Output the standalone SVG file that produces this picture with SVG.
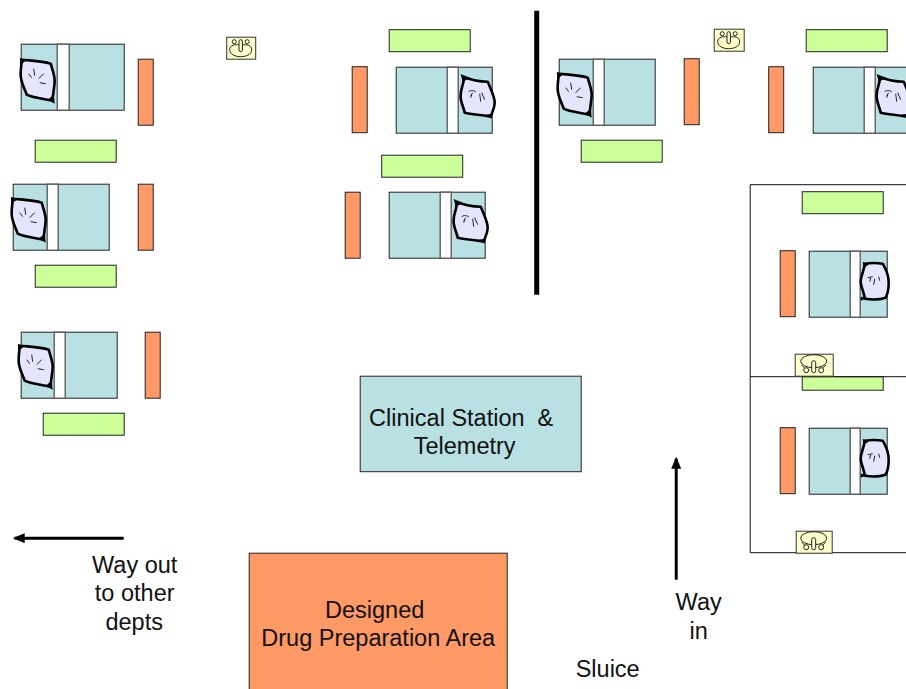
<svg xmlns="http://www.w3.org/2000/svg" xmlns:xlink="http://www.w3.org/1999/xlink" width="906" height="689" viewBox="0 0 906 689">
<style>
.bed{fill:#b9e0e3;stroke:#222;stroke-width:1}
.strip{fill:#fff;stroke:#555;stroke-width:1.300}
.loc{fill:#ff9966;stroke:#222;stroke-width:1}
.bench{fill:#ccff99;stroke:#222;stroke-width:1}
.sink{fill:#ffffcc;stroke:#333;stroke-width:1}
.ln{fill:none;stroke:#222;stroke-width:1}
.room{fill:none;stroke:#111;stroke-width:1}
.t{font-family:"Liberation Sans",Arial,sans-serif;font-size:23.500px;fill:#111;text-anchor:middle}
</style>
<defs>
<marker id="ah" markerWidth="12" markerHeight="10" refX="10" refY="5" orient="auto" markerUnits="userSpaceOnUse"><path d="M0 0L12 5L0 10z" fill="#000"/></marker>
<g id="pillow">
<path d="M-16 -21C-8 -20 4 -20 13 -17C15 -10 17 -5 17 0C17 6 15 12 15 20C6 18 -6 17 -11 14C-13 8 -18 0 -17 -8C-17 -13 -16 -17 -16 -21Z" fill="#e5e5ff" stroke="#000" stroke-width="2.600" stroke-linejoin="round"/>
<path d="M10 19L16 14L17 23Z M-18 -23L-12 -20L-17 -16Z" fill="#000"/>
<path d="M-4 -12L-3 -5M-9 -7L-6 -3M6 -7L1 -2M2 2L8 3" fill="none" stroke="#222" stroke-width="1"/>
</g>
<g id="pillowR">
<path d="M-13 -20C-6 -17 4 -15 11 -15C14 -8 18 0 18 6C18 12 15 16 14 20C6 18 -4 18 -12 16C-13 10 -17 4 -16 -2C-16 -9 -12 -14 -13 -20Z" fill="#e5e5ff" stroke="#000" stroke-width="2.600" stroke-linejoin="round"/>
<path d="M-16 -23L-8 -18L-14 -15Z M9 18L15 17L15 22Z" fill="#000"/>
<path d="M-8 -5C-5 -7 -3 -6 -1 -5M-6 -1L-4 -4M-6 1L-5 -2M3 -3L4 5M5 -4L8 3" fill="none" stroke="#222" stroke-width="1"/>
</g>
<g id="pillowS">
<path d="M-9 -18C-3 -19 3 -19 9 -18C12 -13 15 -6 15 1C15 7 14 12 12 16C6 18 -3 18 -9 17C-9 11 -13 6 -13 0C-13 -7 -9 -12 -9 -18Z" fill="#e5e5ff" stroke="#000" stroke-width="2.600" stroke-linejoin="round"/>
<path d="M-11 -20L-5 -17L-10 -14Z M-13 15L-6 16L-13 19Z" fill="#000"/>
<path d="M-6 -4L-1 -5M-3 -4L-4 0M1 -3L0 3M5 -5L6 -1" fill="none" stroke="#222" stroke-width="1"/>
</g>
<g id="sinkTop">
<path d="M-11 3C-11 -2 -5 -2 -3 -2L3 -2C5 -2 11 -2 11 3C11 8 5 10 0 10C-5 10 -11 8 -11 3Z" class="ln"/>
<rect x="-1.700" y="-7" width="3.400" height="12" rx="1.700" fill="#ffffcc" stroke="#222"/>
<circle cx="-6.500" cy="-5" r="2" class="ln"/><circle cx="6.500" cy="-5" r="2" class="ln"/>
</g>
<g id="sinkBottom">
<ellipse cx="0" cy="-2.500" rx="13" ry="6.500" class="ln"/>
<rect x="-2" y="-3" width="4" height="12" rx="2" fill="#ffffcc" stroke="#222"/>
<circle cx="-7.500" cy="6.500" r="2.500" class="ln"/><circle cx="7.500" cy="6.500" r="2.500" class="ln"/>
<path d="M-9 4.500L-12 1.500M9 4.500L12 1.500" class="ln"/>
</g>
</defs>
<g transform="translate(-0.300 -0.300)">
<g id="bed-1"><rect class="bed" x="21.500" y="44.500" width="103" height="66"/><rect class="strip" x="57.500" y="44.500" width="12" height="66"/><use xlink:href="#pillow" href="#pillow" x="38" y="81"/></g>
<g id="bed-2"><rect class="bed" x="13.500" y="184.500" width="96" height="66"/><rect class="strip" x="47.500" y="184.500" width="11" height="66"/><use xlink:href="#pillow" href="#pillow" x="29" y="220"/></g>
<g id="bed-3"><rect class="bed" x="21.500" y="332.500" width="96" height="66"/><rect class="strip" x="54.500" y="332.500" width="11" height="66"/><use xlink:href="#pillow" href="#pillow" x="36" y="367"/></g>
<g id="bed-4"><rect class="bed" x="559.500" y="59.500" width="96" height="66"/><rect class="strip" x="593.500" y="59.500" width="11" height="66"/><use xlink:href="#pillow" href="#pillow" x="575" y="95"/></g>
<g id="bed-5"><rect class="bed" x="396.500" y="67.500" width="96" height="66"/><rect class="strip" x="447.500" y="67.500" width="11" height="66"/><use xlink:href="#pillowR" href="#pillowR" x="477" y="97"/></g>
<g id="bed-6"><rect class="bed" x="389.500" y="192.500" width="96" height="66"/><rect class="strip" x="440.500" y="192.500" width="11" height="66"/><use xlink:href="#pillowR" href="#pillowR" x="470" y="222"/></g>
<g id="bed-7"><rect class="bed" x="813.500" y="67.500" width="96" height="66"/><rect class="strip" x="864.500" y="67.500" width="11" height="66"/><use xlink:href="#pillowR" href="#pillowR" x="893" y="97"/></g>
<g id="bed-8"><rect class="bed" x="809.500" y="251.500" width="78" height="66"/><rect class="strip" x="850.500" y="251.500" width="10" height="66"/><use xlink:href="#pillowS" href="#pillowS" x="874" y="282"/></g>
<g id="bed-9"><rect class="bed" x="809.500" y="428.500" width="78" height="66"/><rect class="strip" x="850.500" y="428.500" width="10" height="66"/><use xlink:href="#pillowS" href="#pillowS" x="874" y="459"/></g>

<g id="lockers">
<rect class="loc" x="138.500" y="59.500" width="15" height="66"/>
<rect class="loc" x="138.500" y="184.500" width="15" height="66"/>
<rect class="loc" x="145.500" y="332.500" width="15" height="66"/>
<rect class="loc" x="352.500" y="67" width="15" height="66"/>
<rect class="loc" x="345.500" y="192.500" width="15" height="66"/>
<rect class="loc" x="684.500" y="59" width="15" height="66"/>
<rect class="loc" x="769" y="67" width="15" height="66"/>
<rect class="loc" x="780.500" y="251" width="15" height="66"/>
<rect class="loc" x="780.500" y="428" width="15" height="66"/>
</g>
<g id="benches">
<rect class="bench" x="35.500" y="140.500" width="81" height="22"/>
<rect class="bench" x="35.500" y="265.500" width="81" height="22"/>
<rect class="bench" x="43.500" y="413.500" width="81" height="22"/>
<rect class="bench" x="389.500" y="30" width="81" height="22"/>
<rect class="bench" x="382" y="155.500" width="81" height="22"/>
<rect class="bench" x="581.500" y="140.500" width="81" height="22"/>
<rect class="bench" x="806.500" y="30" width="81" height="22"/>
<rect class="bench" x="802.500" y="192" width="81" height="22"/>
<rect class="bench" x="802.500" y="377" width="81" height="13.500"/>
</g>
<g id="room-walls"><path class="room" d="M906.500 185H750.500V553H906.500M750.500 377H906.500"/></g>
<g id="sink-1"><rect class="sink" x="227" y="37.500" width="29" height="22"/><use xlink:href="#sinkTop" href="#sinkTop" x="241" y="47"/></g>
<g id="sink-2"><rect class="sink" x="714.500" y="29.500" width="30" height="22"/><use xlink:href="#sinkTop" href="#sinkTop" x="729" y="39"/></g>
<g id="sink-3"><rect class="sink" x="795.500" y="354.500" width="38" height="22"/><use xlink:href="#sinkBottom" href="#sinkBottom" x="814" y="364"/></g>
<g id="sink-4"><rect class="sink" x="796.500" y="531.500" width="36" height="22"/><use xlink:href="#sinkBottom" href="#sinkBottom" x="814" y="541"/></g>

<g id="divider"><path d="M537 11V295" stroke="#000" stroke-width="5" fill="none"/></g>
<g id="clinical-station"><rect class="bed" x="360.500" y="376.500" width="221" height="95.500"/>
<text class="t" xml:space="preserve" style="white-space:pre" x="461.500" y="426">Clinical Station  &amp;</text><text class="t" x="465" y="454">Telemetry</text></g>
<g id="drug-preparation"><rect class="loc" x="249.500" y="553.500" width="258" height="140"/>
<text class="t" x="375" y="618">Designed</text><text class="t" x="378.500" y="646">Drug Preparation Area</text></g>
<g id="connectors">
<path d="M124 538.500H15" stroke="#000" stroke-width="3" fill="none" marker-end="url(#ah)"/>
<path d="M676.500 580V459" stroke="#000" stroke-width="3" fill="none" marker-end="url(#ah)"/>
</g>
<g id="labels">
<text class="t" x="135" y="573">Way out</text><text class="t" x="135" y="601">to other</text><text class="t" x="134.500" y="630">depts</text>
<text class="t" x="699" y="610">Way</text><text class="t" x="699" y="639">in</text>
<text class="t" x="608" y="677">Sluice</text>
</g>
</g>
</svg>
